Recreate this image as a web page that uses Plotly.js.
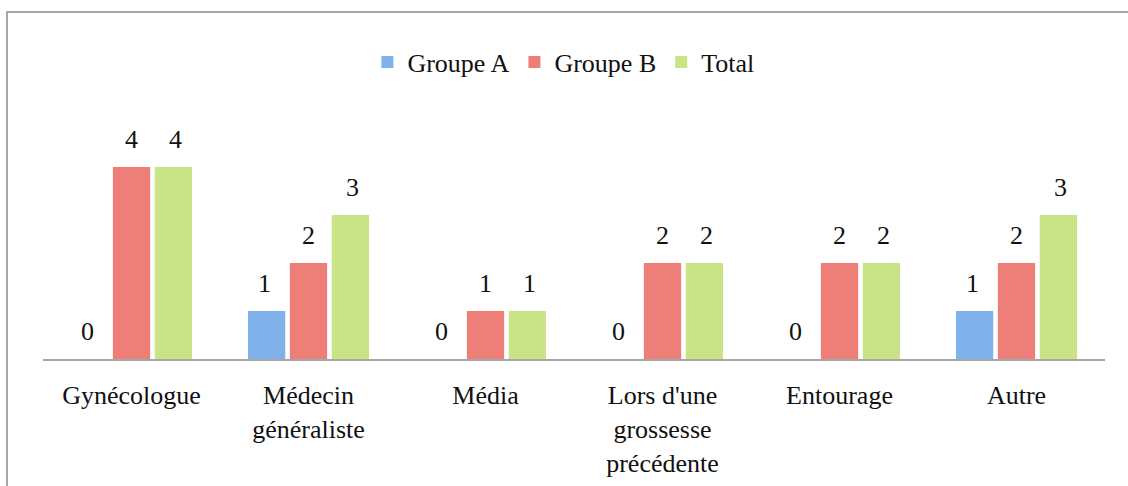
<!DOCTYPE html>
<html lang="fr">
<head>
  <meta charset="UTF-8">
  <title>Groupes</title>
  <script src="https://cdn.plot.ly/plotly-3.0.1.min.js"></script>
  <style>
    html, body {
      margin: 0;
      padding: 0;
      background: #ffffff;
      overflow: hidden;
    }

    /* frame of the chart, cut on the right and bottom like the original */
    #frame {
      position: absolute;
      left: 6px;
      top: 11px;
      width: 1200px;
      height: 600px;
      border: 2px solid #a6a6a6;
      box-sizing: border-box;
    }

    #chart {
      position: absolute;
      left: 0;
      top: 0;
      width: 1128px;
      height: 486px;
    }
  </style>
</head>
<body>
  <div id="frame"></div>
  <div id="chart"></div>

  <script>
    const categories = ["Gynécologue", "Médecin<br>généraliste", "Média", "Lors d'une<br>grossesse<br>précédente", "Entourage", "Autre"];
    const groupeA = [0, 1, 0, 0, 0, 1];
    const groupeB = [4, 2, 1, 2, 2, 2];
    const total = [4, 3, 1, 2, 2, 3];

    const serif = "Liberation Serif, DejaVu Serif, serif";
    const ink = '#111111';
    const fsize = 26;

    const series = [
      { name: "Groupe A", values: groupeA, color: '#7fb1ea', shift: -44 },
      { name: "Groupe B", values: groupeB, color: '#ee7e78', shift: 0 },
      { name: "Total", values: total, color: '#c8e486', shift: 44 }
    ];

    const data = series.map(s => ({
      type: 'bar',
      name: s.name,
      x: categories,
      y: s.values,
      marker: { color: s.color, line: { width: 0 } },
      hoverinfo: 'x+y'
    }));

    // value labels sit a bit higher above the bars than plotly's own text
    const annotations = [];
    series.forEach(s => {
      s.values.forEach((v, i) => {
        annotations.push({
          x: categories[i],
          y: v,
          xref: 'x',
          yref: 'y',
          text: String(v),
          showarrow: false,
          xshift: s.shift,
          yshift: 28,
          font: { family: serif, size: fsize, color: ink }
        });
      });
    });

    const layout = {
      width: 1128,
      height: 486,
      margin: { l: 43, r: 23, t: 119, b: 127 },
      paper_bgcolor: 'rgba(0,0,0,0)',
      plot_bgcolor: 'rgba(0,0,0,0)',
      barmode: 'group',
      bargap: 0.29,
      bargroupgap: 0.11,
      font: { family: serif, size: fsize, color: ink },
      showlegend: true,
      legend: {
        orientation: 'h',
        x: 0.49,
        xanchor: 'center',
        y: 1.2375,
        yanchor: 'middle',
        font: { family: serif, size: fsize, color: ink },
        itemwidth: 30,
        traceorder: 'normal'
      },
      annotations: annotations,
      xaxis: {
        showline: true,
        linecolor: '#a6a6a6',
        linewidth: 2,
        ticks: 'outside',
        ticklen: 12,
        tickcolor: 'rgba(0,0,0,0)',
        showgrid: false,
        tickfont: { family: serif, size: fsize, color: ink }
      },
      yaxis: {
        range: [0, 5],
        visible: false,
        showgrid: false,
        zeroline: false
      }
    };

    Plotly.newPlot('chart', data, layout, { displayModeBar: false, staticPlot: true });
  </script>
</body>
</html>
